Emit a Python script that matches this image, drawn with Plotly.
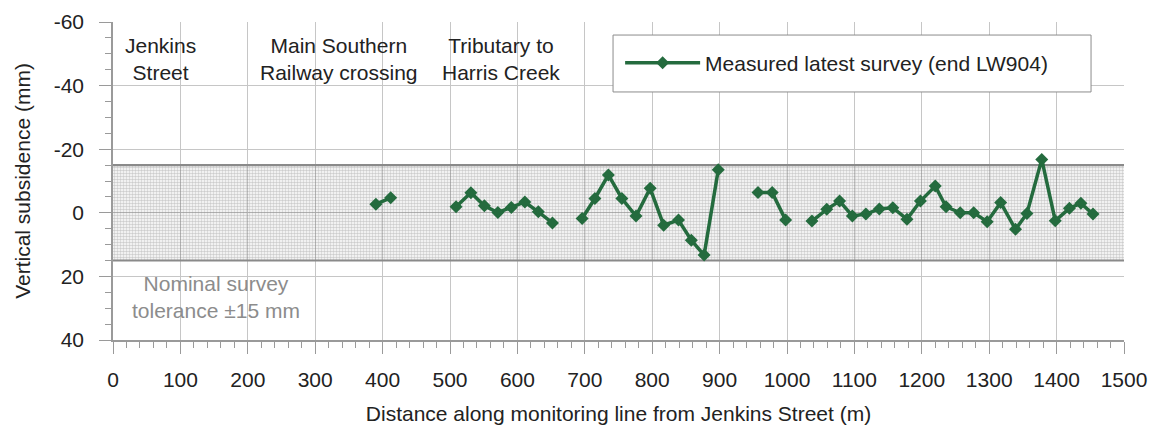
import plotly.graph_objects as go

# Survey chainage (m) along the monitoring line; None breaks the line between survey runs
distance_m = [390, 412, None,
              509, 531, 551, 571, 591, 611, 631, 652, None,
              696, 715, 735, 755, 776, 797, 817, 839, 858, 877, 898, None,
              957, 978, 998, None,
              1037, 1059, 1078, 1097, 1117, 1137, 1157, 1178, 1198, 1220, 1236,
              1257, 1277, 1297, 1317, 1339, 1356, 1378, 1398, 1419, 1436, 1454]

# Measured vertical subsidence (mm), latest survey
subsidence_mm = [-2.7, -4.7, None,
                 -1.9, -6.3, -2.2, -0.1, -1.7, -3.4, -0.3, 3.2, None,
                 1.8, -4.5, -11.9, -4.5, 1.0, -7.7, 3.9, 2.3, 8.6, 13.3, -13.5, None,
                 -6.4, -6.4, 2.3, None,
                 2.6, -1.1, -3.7, 1.0, 0.4, -1.2, -1.6, 2.0, -3.7, -8.4, -1.9,
                 0.0, 0.0, 2.8, -3.2, 5.2, 0.2, -16.8, 2.5, -1.4, -3.0, 0.4]

tolerance_mm = 15
x_extent = [0, 1500]
y_extent = [40, -60]
y_tick_values = [-60, -40, -20, 0, 20, 40]
y_tick_labels = ["-60", "-40", "-20", "0", "20", "40"]

features = [
    (70, "Jenkins<br>Street"),
    (335, "Main Southern<br>Railway crossing"),
    (575, "Tributary to<br>Harris Creek"),
]

FONT = "Liberation Sans, Arial, sans-serif"
FS = 21
GREEN = "#246b3e"
AXIS_GREY = "#9a9a9a"

fig = go.Figure()

# Stippled survey tolerance band
fig.add_trace(go.Scatter(
    x=[x_extent[0], x_extent[1], x_extent[1], x_extent[0], x_extent[0]],
    y=[-tolerance_mm, -tolerance_mm, tolerance_mm, tolerance_mm, -tolerance_mm],
    mode="lines", line=dict(width=0), fill="toself",
    fillcolor="rgba(0,0,0,0)",
    fillpattern=dict(shape=".", size=3, solidity=0.55,
                     fgcolor="rgba(110,110,110,0.7)", bgcolor="rgba(0,0,0,0)"),
    showlegend=False, hoverinfo="skip",
))

# Tolerance limit lines
for lim in (-tolerance_mm, tolerance_mm):
    fig.add_trace(go.Scatter(
        x=x_extent, y=[lim, lim], mode="lines",
        line=dict(color="#8a8a8a", width=2.2),
        showlegend=False, hoverinfo="skip",
    ))

fig.add_trace(go.Scatter(
    x=distance_m, y=subsidence_mm, mode="lines+markers",
    name="Measured latest survey (end LW904)",
    line=dict(color=GREEN, width=3.5),
    marker=dict(symbol="diamond", size=10, color=GREEN),
    connectgaps=False,
))

for fx, label in features:
    fig.add_annotation(x=fx, y=-56.8, text=label, showarrow=False,
                       yanchor="top", align="center",
                       font=dict(family=FONT, size=FS, color="#222222"))

fig.add_annotation(x=153, y=17.9, text="Nominal survey<br>tolerance ±15 mm",
                   showarrow=False, yanchor="top", align="center",
                   font=dict(family=FONT, size=FS, color="#8c8c8c"))

# Frame around the legend entry
fig.add_shape(type="rect", xref="paper", yref="paper",
              x0=0.4946, x1=0.9674, y0=0.780, y1=0.959,
              line=dict(color="#8c8c8c", width=1), fillcolor="white", layer="above")

fig.update_layout(
    width=1149, height=425,
    margin=dict(l=113, r=25, t=22, b=85),
    paper_bgcolor="white", plot_bgcolor="white",
    font=dict(family=FONT, size=FS, color="#222222"),
    legend=dict(x=0.5016, y=0.871, xanchor="left", yanchor="middle",
                bgcolor="rgba(0,0,0,0)", borderwidth=0,
                font=dict(family=FONT, size=FS, color="#222222"),
                itemwidth=75),
)

fig.update_xaxes(
    range=x_extent, dtick=100, tick0=0, automargin=False,
    showgrid=True, gridcolor="#c6c6c6", gridwidth=1,
    showline=True, linecolor=AXIS_GREY, linewidth=1.5,
    ticks="outside", ticklen=12, tickcolor=AXIS_GREY,
    minor=dict(dtick=20, ticks="outside", ticklen=6, tickcolor=AXIS_GREY, showgrid=False),
    zeroline=False, ticklabelstandoff=8,
    title=dict(text="Distance along monitoring line from Jenkins Street (m)",
               font=dict(family=FONT, size=FS), standoff=19),
    tickfont=dict(family=FONT, size=FS),
)

fig.update_yaxes(
    range=y_extent, tickmode="array", tickvals=y_tick_values, ticktext=y_tick_labels,
    automargin=False,
    showgrid=True, gridcolor="#c6c6c6", gridwidth=1,
    showline=True, linecolor=AXIS_GREY, linewidth=1.5,
    ticks="outside", ticklen=12, tickcolor=AXIS_GREY,
    minor=dict(dtick=5, ticks="outside", ticklen=6, tickcolor=AXIS_GREY, showgrid=False),
    zeroline=False, ticklabelstandoff=11,
    title=dict(text="Vertical subsidence (mm)", font=dict(family=FONT, size=FS), standoff=17),
    tickfont=dict(family=FONT, size=FS),
)

fig.write_html("out.html")
